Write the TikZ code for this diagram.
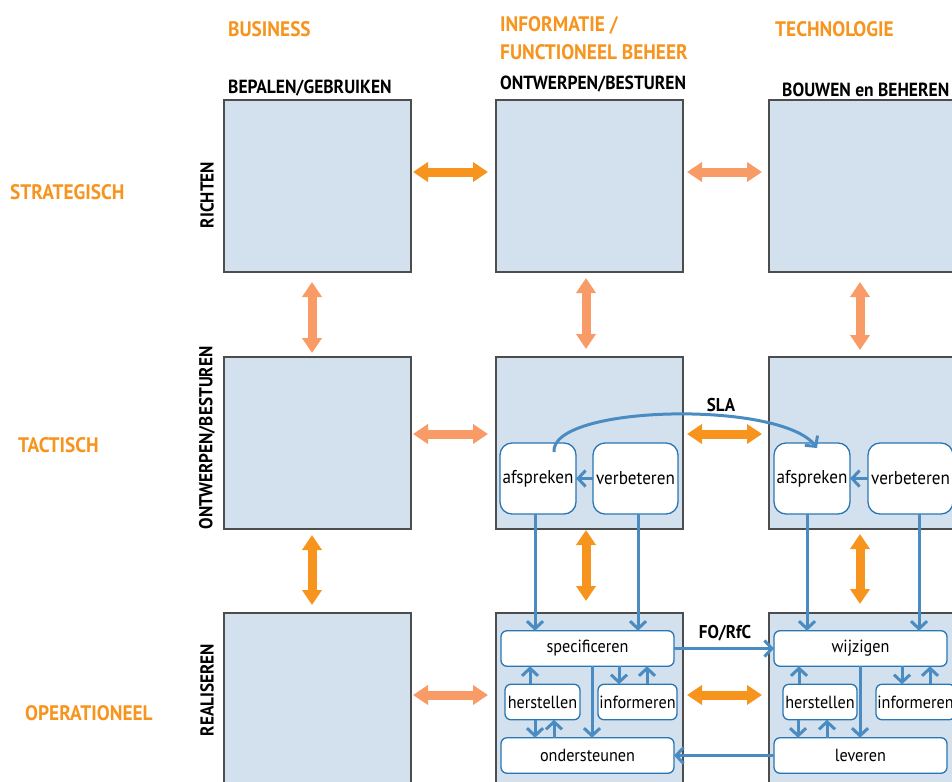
\documentclass[tikz,border=0pt]{standalone}
\usepackage{fontspec}
\setmainfont{PT Sans}[FakeStretch=0.92]
\usetikzlibrary{arrows.meta}
\definecolor{hdr}{HTML}{F7941D}
\definecolor{strong}{HTML}{F7941D}
\definecolor{soft}{HTML}{F99B67}
\definecolor{boxfill}{HTML}{D3E1EE}
\definecolor{boxline}{HTML}{4D4D4D}
\definecolor{flowc}{HTML}{4A8CC1}
\definecolor{nodeline}{HTML}{2A76B2}
\tikzset{
  box/.style={draw=boxline, fill=boxfill, line width=1.5pt, minimum width=187pt, minimum height=172pt, inner sep=0pt, outer sep=0pt},
  task/.style={draw=nodeline, fill=white, line width=1.3pt, rounded corners=6pt, inner sep=0pt, outer sep=0pt, font=\fontsize{17.6}{20}\selectfont},
  bigtask/.style={task, rounded corners=12pt, minimum height=71pt, font=\fontsize{18.6}{20}\selectfont},
  smalltask/.style={task, minimum height=35.5pt},
  flow/.style={draw=flowc, line width=3pt, -{Straight Barb[length=7.5pt,width=16pt]}},
  bigarrow/.style={line width=9pt, {Triangle[length=15pt,width=19pt]}-{Triangle[length=15pt,width=19pt]}},
  hdrtxt/.style={text=hdr, font=\fontsize{21}{28}\selectfont\bfseries, anchor=west, inner sep=0pt, align=left},
  coltxt/.style={text=black, font=\fontsize{19}{20}\selectfont\bfseries, anchor=west, inner sep=0pt},
  rowtxt/.style={text=black, font=\fontsize{18.7}{20}\selectfont\bfseries, rotate=90, inner sep=0pt},
  lbl/.style={text=black, font=\fontsize{18.5}{20}\selectfont\bfseries, inner sep=0pt}
}
\begin{document}
\begin{tikzpicture}[x=1pt,y=-1pt]
\useasboundingbox (0,0) rectangle (952,781);
\clip (0,0) rectangle (952,781);

% headers
\node[hdrtxt] (hbus) at (228,29) {BUSINESS};
\node[hdrtxt, anchor=north west] (hinf) at (500,16) {INFORMATIE /\\FUNCTIONEEL BEHEER};
\node[hdrtxt] (htec) at (775,29) {TECHNOLOGIE};
\node[hdrtxt] (hstr) at (10,192) {STRATEGISCH};
\node[hdrtxt] (htac) at (18,445) {TACTISCH};
\node[hdrtxt] (hope) at (25,713) {OPERATIONEEL};

\node[coltxt] (c1) at (228,88) {BEPALEN/GEBRUIKEN};
\node[coltxt] (c2) at (500,84) {ONTWERPEN/BESTUREN};
\node[coltxt] (c3) at (782,90) {BOUWEN en BEHEREN};

\node[rowtxt] (r1) at (207,195) {RICHTEN};
\node[rowtxt] (r2) at (207,438) {ONTWERPEN/BESTUREN};
\node[rowtxt] (r3) at (207,690) {REALISEREN};

% boxes
\node[box] (b11) at (317.5,186) {};
\node[box] (b12) at (589.5,186) {};
\node[box] (b13) at (862.5,186) {};
\node[box] (b21) at (317.5,443) {};
\node[box] (b22) at (589.5,443) {};
\node[box] (b23) at (862.5,443) {};
\node[box] (b31) at (317.5,699) {};
\node[box] (b32) at (589.5,699) {};
\node[box] (b33) at (862.5,699) {};

% block arrows
\draw[bigarrow, strong] ([shift={(2,-14)}]b11.east) -- ([shift={(-8,-14)}]b12.west);
\draw[bigarrow, soft] ([shift={(4,-14)}]b12.east) -- ([shift={(-7,-14)}]b13.west);
\draw[bigarrow, soft] ([shift={(2,-9)}]b21.east) -- ([shift={(-8,-9)}]b22.west);
\draw[bigarrow, strong] ([shift={(4,-9)}]b22.east) -- ([shift={(-7,-9)}]b23.west);
\draw[bigarrow, soft] ([shift={(2,-4)}]b31.east) -- ([shift={(-8,-4)}]b32.west);
\draw[bigarrow, strong] ([shift={(4,-4)}]b32.east) -- ([shift={(-7,-4)}]b33.west);

\draw[bigarrow, soft] ([shift={(-5.5,10)}]b11.south) -- ([shift={(-5.5,-4)}]b21.north);
\draw[bigarrow, soft] ([shift={(-3.5,6)}]b12.south) -- ([shift={(-3.5,-8)}]b22.north);
\draw[bigarrow, soft] ([shift={(-2.5,10)}]b13.south) -- ([shift={(-2.5,-7)}]b23.north);
\draw[bigarrow, strong] ([shift={(-5.5,6)}]b21.south) -- ([shift={(-5.5,-8)}]b31.north);
\draw[bigarrow, strong] ([shift={(-3.5,1)}]b22.south) -- ([shift={(-3.5,-12)}]b32.north);
\draw[bigarrow, strong] ([shift={(-2.5,5)}]b23.south) -- ([shift={(-2.5,-9)}]b33.north);

% tactical tasks
\node[bigtask, minimum width=76pt] (a2) at (538,478.5) {afspreken};
\node[bigtask, minimum width=85pt] (v2) at (635.5,478.5) {verbeteren};
\node[bigtask, minimum width=76pt] (a3) at (812,478.5) {afspreken};
\node[bigtask, minimum width=85pt] (v3) at (910.5,478.5) {verbeteren};

% operational tasks
\node[smalltask, minimum width=173pt] (s2) at (587.5,648.5) {specificeren};
\node[smalltask, minimum width=75pt] (h2) at (542.5,702) {herstellen};
\node[smalltask, minimum width=79pt] (i2) at (637.5,702) {informeren};
\node[smalltask, minimum width=173pt] (o2) at (587.5,755.5) {ondersteunen};
\node[smalltask, minimum width=173pt] (w3) at (860.5,648.5) {wijzigen};
\node[smalltask, minimum width=74pt] (h3) at (820,702) {herstellen};
\node[smalltask, minimum width=79pt] (i3) at (915.5,702) {informeren};
\node[smalltask, minimum width=173pt] (l3) at (860.5,755.5) {leveren};

% flows tactical
\draw[flow] (v2.west) -- (a2.east);
\draw[flow] (v3.west) -- (a3.east);
\draw[flow] ([xshift=-3]a2.south) -- ([xshift=-3]a2.south |- s2.north);
\draw[flow] ([xshift=2.5]v2.south) -- ([xshift=2.5]v2.south |- s2.north);
\draw[flow] ([xshift=-5]a3.south) -- ([xshift=-5]a3.south |- w3.north);
\draw[flow] ([xshift=8.5]v3.south) -- ([xshift=8.5]v3.south |- w3.north);

% flows operational, box 2
\draw[flow] ([xshift=-12.5]h2.north) -- ([xshift=-12.5]h2.north |- s2.south);
\draw[flow] ([xshift=-7.5]h2.south) -- ([xshift=-7.5]h2.south |- o2.north);
\draw[flow] ([xshift=11.5]h2.south |- o2.north) -- ([xshift=11.5]h2.south);
\draw[flow] ([xshift=4.5]s2.south) -- ([xshift=4.5]s2.south |- o2.north);
\draw[flow] ([xshift=-18.5]i2.north |- s2.south) -- ([xshift=-18.5]i2.north);
\draw[flow] ([xshift=9.5]i2.north) -- ([xshift=9.5]i2.north |- s2.south);

% flows operational, box 3
\draw[flow] ([xshift=-21]h3.north) -- ([xshift=-21]h3.north |- w3.south);
\draw[flow] ([xshift=-22]h3.south) -- ([xshift=-22]h3.south |- l3.north);
\draw[flow] ([xshift=7]h3.south |- l3.north) -- ([xshift=7]h3.south);
\draw[flow] ([xshift=-0.5]w3.south) -- ([xshift=-0.5]w3.south |- l3.north);
\draw[flow] ([xshift=-13.5]i3.north |- w3.south) -- ([xshift=-13.5]i3.north);
\draw[flow] ([xshift=14.5]i3.north) -- ([xshift=14.5]i3.north |- w3.south);

% between columns
\draw[flow] (s2.east) -- (w3.west);
\draw[flow] (l3.west) -- (o2.east);
\node[lbl] (fo) at (725,633) {FO/RfC};

% SLA curve
\coordinate (slas) at (554,452);
\coordinate (slae) at (817,448);
\draw[flow] (slas) .. controls (550,405) and (780,400) .. (slae);
\node[lbl] (sla) at (721,405) {SLA};
\end{tikzpicture}
\end{document}
